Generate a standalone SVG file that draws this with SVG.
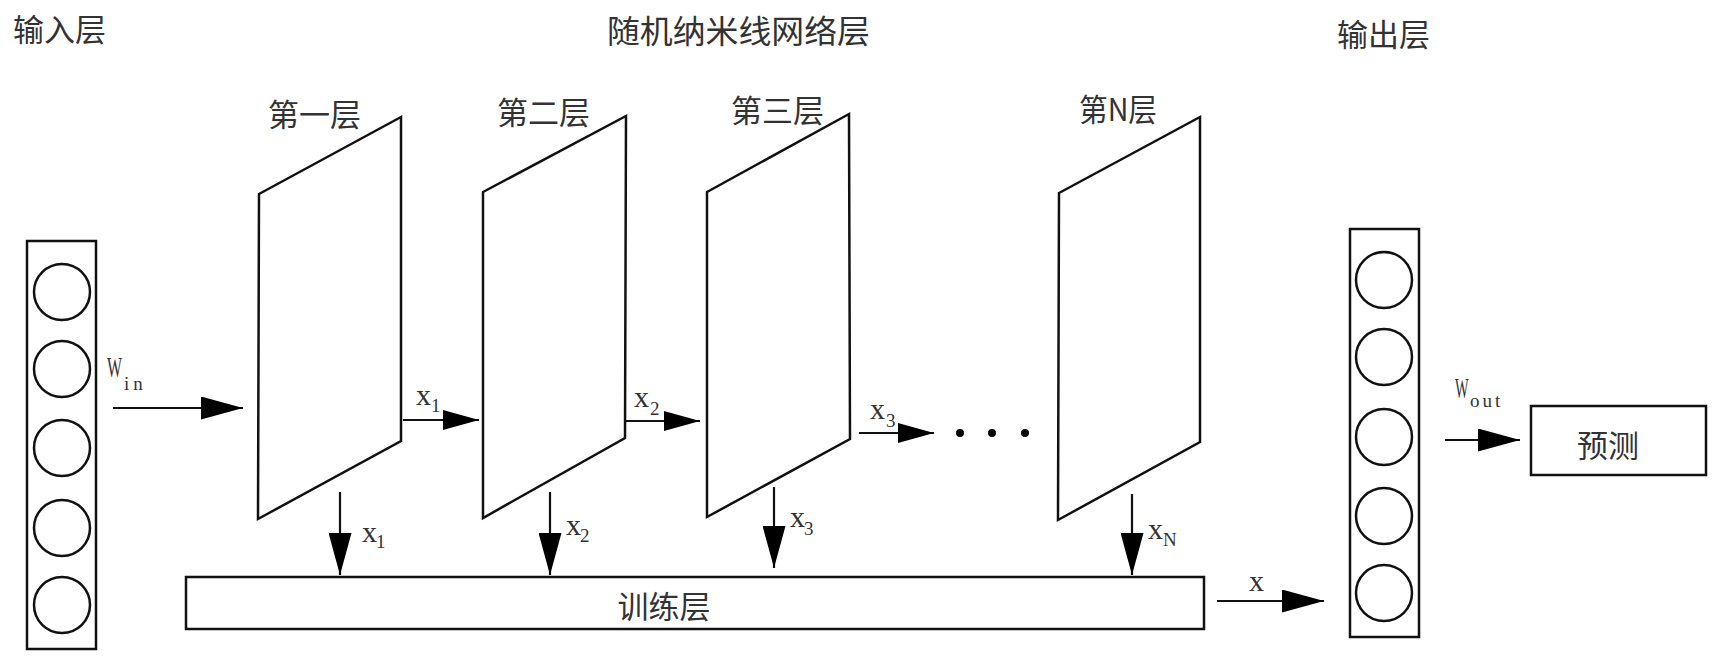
<svg xmlns="http://www.w3.org/2000/svg" width="1718" height="663" viewBox="0 0 1718 663">
<defs>
<style>
.shape{fill:#fff;stroke:#111;stroke-width:2.5}
.cir{fill:none;stroke:#111;stroke-width:2.5}
.conn{fill:none;stroke:#111;stroke-width:2.2}
.cjk{font-family:"Noto Sans CJK SC","Noto Sans CJK TC",sans-serif;font-size:31px;fill:#333}
.lbl{font-family:"Liberation Serif",serif;font-size:30px;fill:#333}
.sub{font-size:19px}
.subt{font-family:"Liberation Serif",serif;font-size:19px;fill:#333}
</style>
<marker id="big" viewBox="0 0 42 23" markerWidth="42" markerHeight="23" refX="42" refY="11.5" orient="auto" markerUnits="userSpaceOnUse">
<path d="M0,0 L42,11.5 L0,23 Z" fill="#000"/>
</marker>
<marker id="med" viewBox="0 0 36 20" markerWidth="36" markerHeight="20" refX="36" refY="10" orient="auto" markerUnits="userSpaceOnUse">
<path d="M0,0 L36,10 L0,20 Z" fill="#000"/>
</marker>
</defs>
<rect width="1718" height="663" fill="#fff"/>

<!-- titles -->
<text class="cjk" x="13" y="41">输入层</text>
<text class="cjk" x="607" y="43" style="font-size:32px" textLength="263" lengthAdjust="spacingAndGlyphs">随机纳米线网络层</text>
<text class="cjk" x="1337" y="46">输出层</text>

<g id="input-layer">
<rect class="shape" x="27" y="241" width="69" height="408"/>
<circle class="cir" cx="62" cy="292" r="28"/>
<circle class="cir" cx="62" cy="369" r="28"/>
<circle class="cir" cx="62" cy="448" r="28"/>
<circle class="cir" cx="62" cy="528" r="28"/>
<circle class="cir" cx="62" cy="605" r="28"/>
</g>

<g id="layer1">
<polygon class="shape" points="259,194 401,117 401,441 258,519"/>
<text class="cjk" x="268" y="126">第一层</text>
</g>
<g id="layer2">
<polygon class="shape" points="483,192 626,116 625,438 483,518"/>
<text class="cjk" x="497" y="124">第二层</text>
</g>
<g id="layer3">
<polygon class="shape" points="707,192 849,114 850,439 707,517"/>
<text class="cjk" x="731" y="122">第三层</text>
</g>
<g id="layerN">
<polygon class="shape" points="1059,193 1200,117 1200,442 1058,520"/>
<text class="cjk" x="1079" y="121" textLength="78" lengthAdjust="spacingAndGlyphs">第N层</text>
</g>

<g id="dots" fill="#000">
<circle cx="960" cy="433" r="4"/>
<circle cx="992" cy="433" r="4"/>
<circle cx="1025" cy="433" r="4"/>
</g>

<g id="training-layer">
<rect class="shape" x="186" y="577" width="1018" height="52"/>
<text class="cjk" x="664" y="618" text-anchor="middle">训练层</text>
</g>

<g id="output-layer">
<rect class="shape" x="1350" y="229" width="69" height="408"/>
<circle class="cir" cx="1384" cy="280" r="28"/>
<circle class="cir" cx="1384" cy="357" r="28"/>
<circle class="cir" cx="1384" cy="437" r="28"/>
<circle class="cir" cx="1384" cy="516" r="28"/>
<circle class="cir" cx="1384" cy="593" r="28"/>
</g>

<g id="prediction">
<rect class="shape" x="1531" y="406" width="175" height="69"/>
<text class="cjk" x="1608" y="457" text-anchor="middle">预测</text>
</g>

<g id="connectors">
<line class="conn" x1="113" y1="408" x2="243" y2="408" marker-end="url(#big)"/>
<line class="conn" x1="403" y1="420" x2="479" y2="420" marker-end="url(#med)"/>
<line class="conn" x1="625" y1="421" x2="700" y2="421" marker-end="url(#med)"/>
<line class="conn" x1="859" y1="433" x2="934" y2="433" marker-end="url(#med)"/>
<line class="conn" x1="340" y1="492" x2="340" y2="575" marker-end="url(#big)"/>
<line class="conn" x1="550" y1="492" x2="550" y2="575" marker-end="url(#big)"/>
<line class="conn" x1="774" y1="487" x2="774" y2="568" marker-end="url(#big)"/>
<line class="conn" x1="1132" y1="494" x2="1132" y2="575" marker-end="url(#big)"/>
<line class="conn" x1="1217" y1="601" x2="1324" y2="601" marker-end="url(#big)"/>
<line class="conn" x1="1445" y1="440" x2="1520" y2="440" marker-end="url(#big)"/>
</g>

<g id="labels">
<text class="lbl" transform="translate(107,377) scale(0.53,1)">W</text>
<text class="subt" x="124" y="390" letter-spacing="4">in</text>
<text class="lbl" transform="translate(1455,398) scale(0.48,1)">W</text>
<text class="subt" x="1470" y="407" letter-spacing="3">out</text>

<text class="lbl" x="416" y="405">x<tspan class="sub" x="431" y="412">1</tspan></text>
<text class="lbl" x="634" y="407">x<tspan class="sub" x="650" y="415">2</tspan></text>
<text class="lbl" x="870" y="419">x<tspan class="sub" x="886" y="427">3</tspan></text>

<text class="lbl" x="362" y="542">x<tspan class="sub" x="376" y="548">1</tspan></text>
<text class="lbl" x="566" y="535">x<tspan class="sub" x="580" y="542">2</tspan></text>
<text class="lbl" x="790" y="527">x<tspan class="sub" x="804" y="535">3</tspan></text>
<text class="lbl" x="1148" y="539">x<tspan class="sub" x="1163" y="546">N</tspan></text>

<text class="lbl" x="1249" y="591">x</text>
</g>
</svg>
